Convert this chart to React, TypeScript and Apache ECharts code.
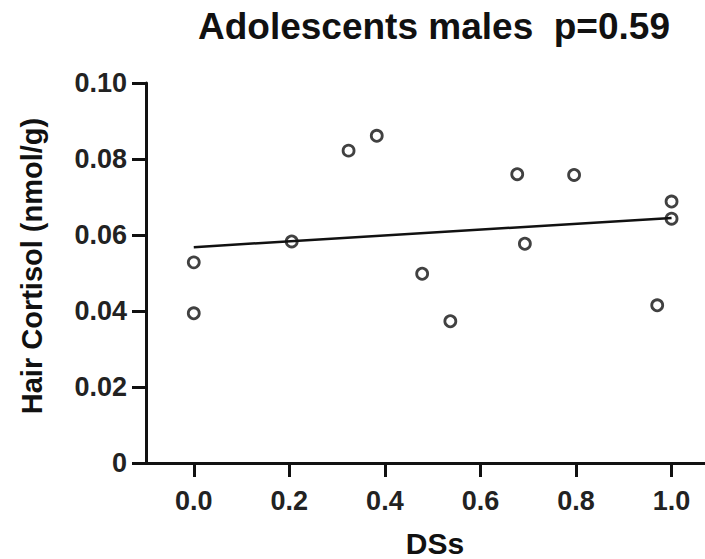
import React, { useEffect, useRef } from "react";
import * as echarts from "echarts";

const titleText = "Adolescents males  p=0.59";
const xName = "DSs";
const yName = "Hair Cortisol (nmol/g)";

const dsValues = [0, 0, 0.205, 0.324, 0.383, 0.478, 0.537, 0.677, 0.693, 0.796, 0.97, 1.0, 1.0];
const cortisolValues = [0.0528, 0.0394, 0.0583, 0.0822, 0.0861, 0.0498, 0.0373, 0.076, 0.0577, 0.0758, 0.0415, 0.0688, 0.0643];

const fitX = [0, 1.0];
const fitY = [0.0568, 0.0645];

const xTicks = [0, 0.2, 0.4, 0.6, 0.8, 1.0];

const FONT = "'Liberation Sans', Arial, Helvetica, sans-serif";

export default function App() {
  const ref = useRef<HTMLDivElement>(null);
  useEffect(() => {
    if (!ref.current) return;
    const chart = echarts.init(ref.current, null, { renderer: "svg" });
    const points = dsValues.map((x, i) => [x, cortisolValues[i]]);
    const fit = fitX.map((x, i) => [x, fitY[i]]);
    chart.setOption({
      animation: false,
      backgroundColor: "#ffffff",
      grid: { left: 146, right: 0, top: 83, bottom: 96, containLabel: false },
      xAxis: {
        type: "value",
        min: -0.1,
        max: 1.07,
        splitLine: { show: false },
        axisLine: { show: true, onZero: false, lineStyle: { color: "#111", width: 3 } },
        axisTick: { show: true, length: 14, lineStyle: { color: "#111", width: 3 }, customValues: xTicks },
        axisLabel: {
          customValues: xTicks,
          margin: 24,
          color: "#222",
          fontSize: 27,
          fontWeight: "bold",
          fontFamily: FONT,
          formatter: (v: number) => v.toFixed(1),
        },
      },
      yAxis: {
        type: "value",
        min: 0,
        max: 0.1,
        interval: 0.02,
        splitLine: { show: false },
        axisLine: { show: true, onZero: false, lineStyle: { color: "#111", width: 3 } },
        axisTick: { show: true, length: 14, lineStyle: { color: "#111", width: 3 } },
        axisLabel: {
          margin: 19,
          color: "#222",
          fontSize: 27,
          fontWeight: "bold",
          fontFamily: FONT,
          formatter: (v: number) => (v === 0 ? "0" : v.toFixed(2)),
        },
      },
      graphic: [
        {
          type: "text",
          x: 434,
          y: 26,
          style: {
            text: titleText,
            fill: "#111",
            font: `bold 37px ${FONT}`,
            textAlign: "center",
            textVerticalAlign: "middle",
          },
        },
        {
          type: "text",
          x: 435,
          y: 543,
          style: {
            text: xName,
            fill: "#111",
            font: `bold 30px ${FONT}`,
            textAlign: "center",
            textVerticalAlign: "middle",
          },
        },
        {
          type: "text",
          x: 32,
          y: 266,
          rotation: Math.PI / 2,
          style: {
            text: yName,
            fill: "#111",
            font: `bold 29px ${FONT}`,
            textAlign: "center",
            textVerticalAlign: "middle",
          },
        },
      ],
      series: [
        {
          type: "line",
          data: fit,
          symbol: "none",
          lineStyle: { color: "#111", width: 2.5 },
          z: 2,
        },
        {
          type: "scatter",
          data: points,
          symbol: "circle",
          symbolSize: 11,
          itemStyle: { color: "rgba(0,0,0,0)", borderColor: "#111", borderWidth: 2.8 },
          z: 3,
        },
      ],
    });
    return () => chart.dispose();
  }, []);
  return <div ref={ref} style={{ width: 705, height: 559, position: "absolute", left: 0, top: 0 }} />;
}
